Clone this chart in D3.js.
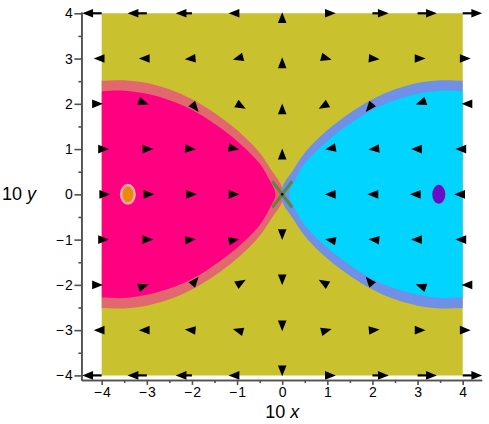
<!DOCTYPE html>
<html>
<head>
<meta charset="utf-8">
<script src="https://cdn.jsdelivr.net/npm/d3@7"></script>
<style>
  body { margin: 0; background: #fff; }
  svg { display: block; font-family: "Liberation Sans", Arial, sans-serif; }
</style>
</head>
<body>
<svg id="chart" width="489" height="424"></svg>
<script>
// grid of the direction field
const gridX = [-4, -3, -2, -1, 0, 1, 2, 3, 4];
const gridY = [4, 3, 2, 1, 0, -1, -2, -3, -4];

// arrow vectors (data units), one row per gridY value
const fieldU = [
  [-0.431, -0.427, -0.361, -0.188, 0, 0.188, 0.361, 0.427, 0.431],
  [-0.177, -0.177, -0.159, -0.096, 0, 0.096, 0.159, 0.177, 0.177],
  [0.027, 0.042, 0.149, 0.192, 0, -0.192, -0.149, -0.042, -0.027],
  [0.162, 0.144, 0.088, 0.050, 0, -0.050, -0.088, -0.144, -0.162],
  [0.188, 0.170, 0.111, 0.055, 0, -0.055, -0.111, -0.170, -0.188],
  [0.162, 0.144, 0.088, 0.050, 0, -0.050, -0.088, -0.144, -0.162],
  [0.027, 0.042, 0.149, 0.192, 0, -0.192, -0.149, -0.042, -0.027],
  [-0.177, -0.177, -0.159, -0.096, 0, 0.096, 0.159, 0.177, 0.177],
  [-0.431, -0.427, -0.361, -0.188, 0, 0.188, 0.361, 0.427, 0.431]
];
const fieldV = [
  [0, 0, 0, 0, 0.022, 0, 0, 0, 0],
  [0, 0, -0.014, -0.026, 0.027, -0.026, -0.014, 0, 0],
  [0, -0.015, -0.178, -0.111, 0.007, -0.111, -0.178, -0.015, 0],
  [0, 0, -0.008, -0.009, 0.011, -0.009, -0.008, 0, 0],
  [0, 0, 0, 0, 0, 0, 0, 0, 0],
  [0, 0, 0.008, 0.009, -0.011, 0.009, 0.008, 0, 0],
  [0, 0.015, 0.178, 0.111, -0.007, 0.111, 0.178, 0.015, 0],
  [0, 0, 0.014, 0.026, -0.027, 0.026, 0.014, 0, 0],
  [0, 0, 0, 0, -0.018, 0, 0, 0, 0]
];

// region boundaries, by distance |x| from the saddle (mirrored top/bottom)
const bandX = [0, 0.25, 0.5, 1, 1.5, 2, 2.5, 3, 3.5, 4, 4.4];
const bandY = [0.15, 0.55, 0.92, 1.42, 1.8, 2.1, 2.32, 2.46, 2.52, 2.51, 2.5];
const coreX = [0.15, 0.3, 0.5, 1, 1.5, 2, 2.5, 3, 3.5, 4, 4.4];
const coreY = [0, 0.35, 0.68, 1.18, 1.56, 1.87, 2.08, 2.22, 2.29, 2.28, 2.28];

const sides = [-1, 1];
const bandColors = ["#e2686f", "#6f8fe6"];
const coreColors = ["#ff0080", "#00d4ff"];

// marked points
const markX = [-3.42, 3.47];
const markY = [0, 0];
const markColors = ["#ea8a06", "#6a0dc6"];

const majorTicks = [-4, -3, -2, -1, 0, 1, 2, 3, 4];
const minorTicks = [-4.5, -3.5, -2.5, -1.5, -0.5, 0.5, 1.5, 2.5, 3.5];

const svg = d3.select("#chart");

const x = d3.scaleLinear().domain([-4, 4]).range([101.7, 462.7]);
const y = d3.scaleLinear().domain([-4, 4]).range([375.4, 13.3]);

// clip + soft edges for the coloured regions
const defs = svg.append("defs");
defs.append("clipPath").attr("id", "plotclip")
  .append("rect")
  .attr("x", x(-4)).attr("y", y(4))
  .attr("width", x(4) - x(-4)).attr("height", y(-4) - y(4));
defs.append("filter").attr("id", "soft")
  .append("feGaussianBlur").attr("stdDeviation", 0.55);

const regions = svg.append("g").attr("clip-path", "url(#plotclip)");
regions.append("rect")
  .attr("x", x(-4.5)).attr("y", y(4.5))
  .attr("width", x(4.5) - x(-4.5)).attr("height", y(-4.5) - y(4.5))
  .attr("fill", "#c9c22e");

const soft = regions.append("g").attr("filter", "url(#soft)");
const line = d3.line().x((d) => x(d[0])).y((d) => y(d[1])).curve(d3.curveCatmullRom.alpha(0.5));

function outline(xs, ys, s) {
  const top = xs.map((d, i) => [s * d, ys[i]]).reverse();
  const bottom = xs.map((d, i) => [s * d, -ys[i]]).filter((d) => d[1] !== 0);
  return line(top.concat(bottom)) + "Z";
}

sides.forEach((s, i) => {
  soft.append("path").attr("d", outline(bandX, bandY, s)).attr("fill", bandColors[i]);
  soft.append("path").attr("d", outline(coreX, coreY, s)).attr("fill", coreColors[i]);
});

// marked points
soft.append("ellipse")
  .attr("cx", x(markX[0])).attr("cy", y(markY[0]))
  .attr("rx", 8).attr("ry", 10.5).attr("fill", "#f4a8b4");
svg.selectAll("ellipse.mark")
  .data(markX)
  .enter()
  .append("ellipse")
  .attr("class", "mark")
  .attr("cx", (d) => x(d))
  .attr("cy", (d, i) => y(markY[i]))
  .attr("rx", (d, i) => i === 0 ? 5.5 : 6.5)
  .attr("ry", (d, i) => i === 0 ? 8 : 9.5)
  .attr("fill", (d, i) => markColors[i]);

// saddle cross
const cross = svg.append("g")
  .attr("stroke", "#4b8b3b").attr("stroke-width", 3).attr("stroke-opacity", 0.9);
cross.append("line")
  .attr("x1", x(-0.22)).attr("y1", y(0.29)).attr("x2", x(0.22)).attr("y2", y(-0.29));
cross.append("line")
  .attr("x1", x(-0.22)).attr("y1", y(-0.29)).attr("x2", x(0.22)).attr("y2", y(0.29));

// arrows
const H = 10.8, W = 4.3;
const arrows = [];
gridY.forEach((gy, r) => gridX.forEach((gx, c) => {
  arrows.push({ gx: gx, gy: gy, u: fieldU[r][c], v: fieldV[r][c] });
}));

const arrowG = svg.append("g");
arrows.forEach((a) => {
  const px = x(a.gx), py = y(a.gy);
  const tx = x(a.gx + a.u), ty = y(a.gy + a.v);
  const dx = tx - px, dy = ty - py;
  const len = Math.hypot(dx, dy);
  if (len === 0) {
    arrowG.append("circle").attr("cx", px).attr("cy", py).attr("r", 1.3).attr("fill", "#000");
    return;
  }
  const ux = dx / len, uy = dy / len;
  const bx = tx - H * ux, by = ty - H * uy;
  if (len > H) {
    arrowG.append("line")
      .attr("x1", px).attr("y1", py)
      .attr("x2", bx + 2 * ux).attr("y2", by + 2 * uy)
      .attr("stroke", "#000").attr("stroke-width", 2.2);
  }
  arrowG.append("polygon")
    .attr("points", [[tx, ty], [bx - W * uy, by + W * ux], [bx + W * uy, by - W * ux]].join(" "))
    .attr("fill", "#000");
});

// axes
const xView = [-4.45, 4.42];
const yView = [-4.1, 4.03];
const xa = x.copy().domain(xView).range(xView.map(x));
const ya = y.copy().domain(yView).range(yView.map(y));
const fmt = (d) => d < 0 ? "\u2212\u200a" + (-d) : String(d);

function styleAxis(g) {
  g.selectAll("path, line").attr("stroke", "#505050").attr("stroke-width", 1.6);
  g.selectAll("text").attr("fill", "#000").attr("font-size", 14)
    .attr("font-family", "Liberation Sans, Arial, sans-serif");
}

svg.append("g")
  .attr("transform", "translate(0," + ya(yView[0]) + ")")
  .call(d3.axisBottom(xa).tickValues(minorTicks.filter((d) => d > xView[0])).tickSize(3).tickFormat("").tickSizeOuter(0))
  .call(styleAxis);
svg.append("g")
  .attr("id", "x-axis")
  .attr("transform", "translate(0," + ya(yView[0]) + ")")
  .call(d3.axisBottom(xa).tickValues(majorTicks).tickSize(5).tickPadding(2.5).tickSizeOuter(0).tickFormat(fmt))
  .call(styleAxis);

svg.append("g")
  .attr("transform", "translate(" + xa(xView[0]) + ",0)")
  .call(d3.axisLeft(ya).tickValues(minorTicks.filter((d) => d > yView[0])).tickSize(3).tickFormat("").tickSizeOuter(0))
  .call(styleAxis);
svg.append("g")
  .attr("id", "y-axis")
  .attr("transform", "translate(" + xa(xView[0]) + ",0)")
  .call(d3.axisLeft(ya).tickValues(majorTicks).tickSize(7).tickPadding(1.5).tickSizeOuter(0).tickFormat(fmt))
  .call(styleAxis);

// axis titles
const xt = svg.append("text")
  .attr("x", x(0)).attr("y", 417.5)
  .attr("text-anchor", "middle").attr("font-size", 18);
xt.append("tspan").text("10 ");
xt.append("tspan").attr("font-style", "italic").text("x");

const yt = svg.append("text")
  .attr("x", 2).attr("y", 200)
  .attr("font-size", 18);
yt.append("tspan").text("10 ");
yt.append("tspan").attr("font-style", "italic").text("y");
</script>
</body>
</html>
